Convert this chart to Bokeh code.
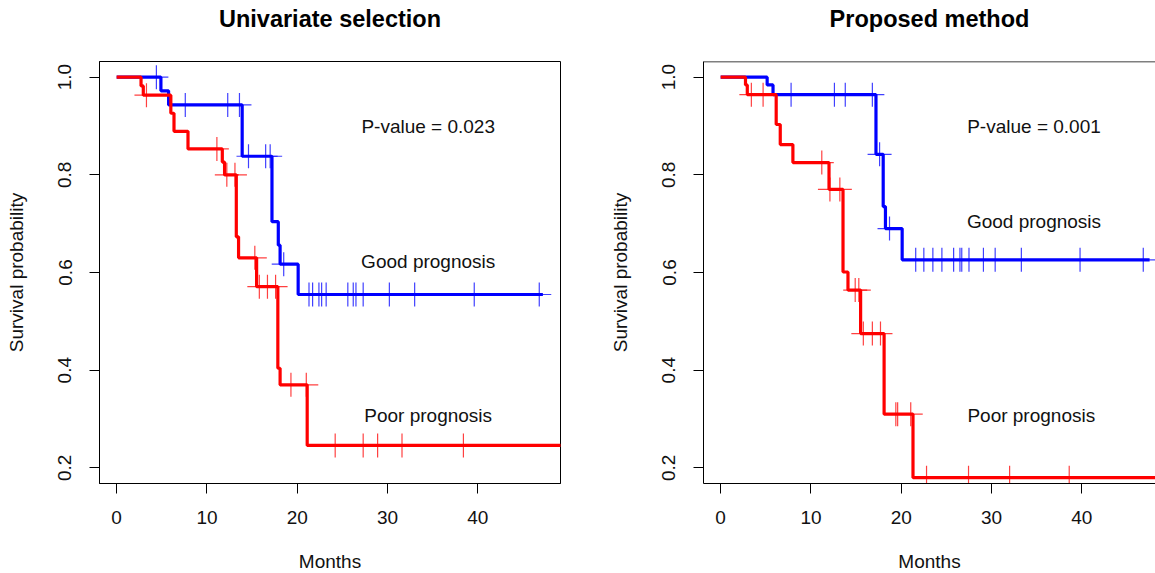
import numpy as np
from bokeh.plotting import figure
from bokeh.layouts import row
from bokeh.models import Range1d, FixedTicker, Title, Span
from bokeh.core.properties import value
from bokeh.embed import file_html
from bokeh.resources import INLINE

FONT = "Liberation Sans"

x_ticks = [0, 10, 20, 30, 40]
y_ticks = [0.2, 0.4, 0.6, 0.8, 1.0]
y_tick_labels = ["0.2", "0.4", "0.6", "0.8", "1.0"]

# ---- Univariate selection ----
uni_title = "Univariate selection"
uni_pvalue = "P-value = 0.023"
uni_good_t = [0, 4.9, 5.75, 13.9, 17.2, 17.9, 18.1, 20.1, 47.2]
uni_good_s = [1.0, 0.972, 0.943, 0.838, 0.704, 0.656, 0.617, 0.555, 0.555]
uni_good_cens = [4.4, 7.6, 12.3, 13.6, 14.6, 16.5, 17.0, 18.5,
                 21.3, 21.7, 22.4, 22.7, 23.2, 25.6, 26.2, 26.5, 27.3,
                 30.2, 33.0, 39.6, 46.8]
uni_poor_t = [0, 2.7, 2.95, 6.0, 6.35, 7.9, 11.7, 11.95, 13.25, 13.5,
              15.5, 17.85, 18.1, 21.1, 50.0]
uni_poor_s = [1.0, 0.982, 0.963, 0.926, 0.889, 0.853, 0.826, 0.800, 0.673,
              0.630, 0.571, 0.404, 0.370, 0.246, 0.246]
uni_poor_cens = [3.3, 11.1, 12.2, 13.1, 15.3, 15.8, 16.7, 17.6, 19.3, 21.0,
                 24.2, 27.3, 28.9, 31.6, 38.4]

# ---- Proposed method ----
prop_title = "Proposed method"
prop_pvalue = "P-value = 0.001"
prop_good_t = [0, 5.15, 5.8, 17.2, 18.0, 18.25, 20.1, 47.5]
prop_good_s = [1.0, 0.984, 0.964, 0.842, 0.735, 0.690, 0.626, 0.626]
prop_good_cens = [7.8, 12.6, 13.8, 16.8, 17.6, 18.7, 21.6, 22.5, 23.5, 24.5,
                  25.8, 26.5, 26.7, 27.5, 29.1, 30.4, 33.3, 39.8, 46.8]
prop_poor_t = [0, 2.75, 2.95, 6.15, 6.6, 8.0, 12.0, 13.55, 14.1, 15.5,
               18.1, 21.3, 50.0]
prop_poor_s = [1.0, 0.984, 0.964, 0.903, 0.862, 0.825, 0.770, 0.601, 0.564,
               0.475, 0.310, 0.180, 0.180]
prop_poor_cens = [3.4, 4.7, 11.2, 12.1, 13.2, 14.9, 15.3, 15.8, 16.8, 17.7,
                  19.4, 19.6, 21.05, 22.8, 27.45, 32.0, 38.6]

group_labels = ["Good prognosis", "Poor prognosis"]
colors = ["#0000FF", "#FF0000"]

# label positions (data coords)
uni_text_pos = {"p": (34.5, 0.898), "good": (34.5, 0.623), "poor": (34.5, 0.308)}
prop_text_pos = {"p": (34.7, 0.898), "good": (34.7, 0.705), "poor": (34.4, 0.308)}

X_START = -1.9
PX_PER_MONTH = 9.03
Y_START, Y_END = 0.168, 1.032
FRAME_H = 422


def level_at(ts, ss, c):
    ts = np.asarray(ts)
    i = np.searchsorted(ts, c, side="right") - 1
    return [ss[k] for k in i]


def make_plot(title, pval, curves, tpos, frame_w, x_end, min_left, min_right,
              outline, title_offset):
    p = figure(frame_width=frame_w, frame_height=FRAME_H,
               x_range=Range1d(X_START, x_end), y_range=Range1d(Y_START, Y_END),
               output_backend="svg", toolbar_location=None,
               min_border_left=min_left, min_border_right=min_right,
               min_border_top=61, min_border_bottom=89,
               background_fill_color="white", border_fill_color="white")
    # blank spacer panel between the frame and the title
    p.add_layout(Title(text=" ", text_font=FONT, text_font_size="10px",
                       standoff=17), "above")
    p.title = Title(text=title, align="center", text_font=FONT,
                    text_font_size="23.5px", text_font_style="bold",
                    text_color="black", standoff=0, offset=title_offset)
    p.xgrid.visible = False
    p.ygrid.visible = False
    if outline:
        p.outline_line_color = "black"
        p.outline_line_width = 1
        p.outline_line_alpha = 1
    else:
        p.outline_line_color = None
        p.add_layout(Span(location=Y_END, dimension="width",
                          line_color="black", line_width=1.5))

    xa, ya = p.below[0], p.left[0]
    for ax in (xa, ya):
        ax.axis_line_color = "black"
        ax.major_tick_line_color = "black"
        ax.major_tick_out = 10
        ax.major_tick_in = 0
        ax.minor_tick_line_color = None
        ax.major_label_text_font = FONT
        ax.major_label_text_font_size = "19px"
        ax.major_label_text_color = "#111111"
        ax.axis_label_text_font = FONT
        ax.axis_label_text_font_size = "19px"
        ax.axis_label_text_font_style = "normal"
        ax.axis_label_text_color = "#111111"

    xa.ticker = FixedTicker(ticks=x_ticks)
    ya.ticker = FixedTicker(ticks=y_ticks)
    ya.major_label_overrides = {t: l for t, l in zip(y_ticks, y_tick_labels)}
    ya.major_label_orientation = "vertical"
    xa.axis_label = "Months"
    ya.axis_label = "Survival probability"
    xa.major_label_standoff = 17
    xa.axis_label_standoff = 24
    ya.major_label_standoff = 18
    ya.axis_label_standoff = 29

    for (ts, ss, cens), col in zip(curves, colors):
        p.step(ts, ss, mode="after", line_color=col, line_width=3.2)
        p.scatter(cens, level_at(ts, ss, cens), marker="cross", size=24,
                  line_color=col, line_width=1.2, line_alpha=0.75)

    tx = dict(text_font=value(FONT), text_font_size="19px", text_color="#111111",
              text_align="center", text_baseline="middle")
    p.text(x=[tpos["p"][0]], y=[tpos["p"][1]], text=[pval], **tx)
    p.text(x=[tpos["good"][0]], y=[tpos["good"][1]], text=[group_labels[0]], **tx)
    p.text(x=[tpos["poor"][0]], y=[tpos["poor"][1]], text=[group_labels[1]], **tx)
    return p


# left: frame 99..560 ; right: frame 703..1155
w1 = 461
x_end1 = X_START + w1 / PX_PER_MONTH
p1 = make_plot(uni_title, uni_pvalue,
               [(uni_good_t, uni_good_s, uni_good_cens),
                (uni_poor_t, uni_poor_s, uni_poor_cens)],
               uni_text_pos, w1, x_end1, 99, 46, True, 0)
w2 = 452
x_end2 = X_START + w2 / PX_PER_MONTH
p2 = make_plot(prop_title, prop_pvalue,
               [(prop_good_t, prop_good_s, prop_good_cens),
                (prop_poor_t, prop_poor_s, prop_poor_cens)],
               prop_text_pos, w2, x_end2, 87, 0, False, 4)

layout = row(p1, p2)
open("out.html", "w").write(file_html(layout, INLINE))
